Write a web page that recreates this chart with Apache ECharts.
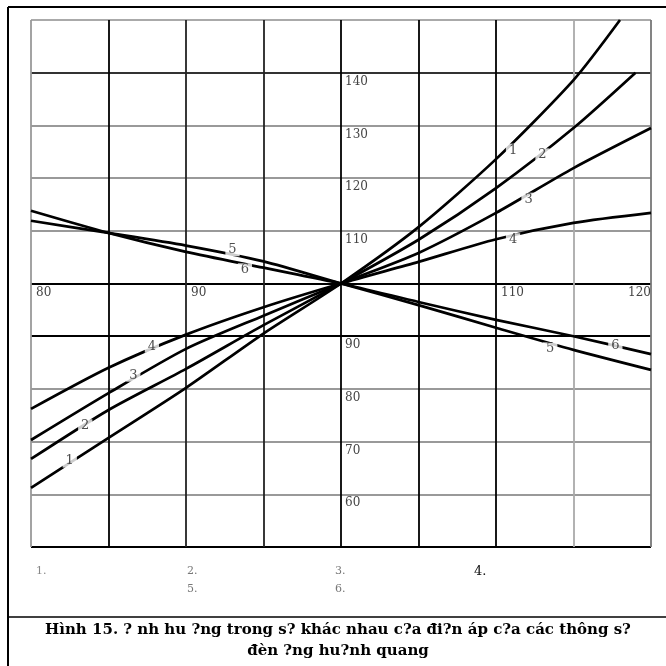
<!DOCTYPE html>
<html>
<head>
<meta charset="utf-8">
<script src="https://cdn.jsdelivr.net/npm/echarts@6/dist/echarts.min.js"></script>
<style>
html,body{margin:0;padding:0;background:#fff;}
#chart{width:666px;height:666px;}
</style>
</head>
<body>
<div id="chart"></div>
<script>
// Voltage (% of nominal) on x, parameter (% of nominal) on y
const curve1 = [[80,61.2],[85,70.7],[90,80.2],[95,90.5],[100,100],[105,110.7],[110,123.6],[115,138.6],[118,150]];
const curve2 = [[80,66.7],[85,76.0],[90,83.8],[95,92.1],[100,100],[105,108.3],[110,118.1],[115,129.5],[119,140]];
const curve3 = [[80,70.3],[85,79.2],[90,87.6],[95,93.9],[100,100],[105,105.8],[110,113.4],[115,121.9],[120,129.5]];
const curve4 = [[80,76.2],[85,84.0],[90,90.3],[95,95.5],[100,100],[105,104.1],[110,108.4],[115,111.5],[120,113.4]];
const curve5 = [[80,111.9],[85,109.6],[90,107.2],[95,104.2],[100,100],[105,95.9],[110,91.6],[115,87.4],[120,83.6]];
const curve6 = [[80,113.8],[85,109.6],[90,106.0],[95,103.0],[100,100],[105,96.5],[110,93.1],[115,90.0],[120,86.6]];
const curveNames = ['1','2','3','4','5','6'];
// curve number tags as drawn on the curves: [x, y, text]
const curveTags = [
  [82.5,66.3,'1'],[111.1,125.3,'1'],
  [83.5,73.0,'2'],[113.0,124.4,'2'],
  [86.6,82.6,'3'],[112.1,116.0,'3'],
  [87.8,88.1,'4'],[111.1,108.3,'4'],
  [93.0,106.4,'5'],[113.5,87.6,'5'],
  [93.8,102.6,'6'],[117.7,88.3,'6']
];
const xLabels = [80,90,110,120];
const yLabels = [60,70,80,90,110,120,130,140];
const legendRow1 = ['1.','2.','3.','4.'];
const legendRow2 = ['5.','6.'];
const captionLines = ['Hình 15. ? nh hu ?ng trong s? khác nhau c?a đi?n áp c?a các thông s?','đèn ?ng hu?nh quang'];

const chart = echarts.init(document.getElementById('chart'));
const lineSeries = [curve1,curve2,curve3,curve4,curve5,curve6].map((d,i)=>({
  type:'line', name:curveNames[i], data:d, smooth:0.25, symbol:'none',
  lineStyle:{color:'#000', width:2.7}, z:3, clip:true
}));
const serif = "'DejaVu Serif','Liberation Serif',serif";
chart.setOption({
  backgroundColor:'#fff',
  animation:false,
  grid:{left:31, right:15, top:20, bottom:119, show:false},
  xAxis:{
    type:'value', min:80, max:120, interval:5, position:'bottom', offset:-263,
    axisLine:{show:false}, axisTick:{show:false},
    axisLabel:{
      margin:3, align:'left', alignMaxLabel:'right', padding:[0,0,0,5],
      color:'#444', fontFamily:serif, fontSize:12,
      formatter:v=> xLabels.includes(v) ? String(v) : ''
    },
    splitLine:{show:true, lineStyle:{width:1.8, color:['#999','#000','#222','#222','#000','#000','#000','#aaa','#777']}}
  },
  yAxis:{
    type:'value', min:50, max:150, interval:10, position:'left', offset:-310,
    axisLine:{show:false}, axisTick:{show:false},
    axisLabel:{
      inside:true, margin:4, verticalAlign:'top', padding:[3,0,0,0],
      color:'#444', fontFamily:serif, fontSize:12,
      formatter:v=> yLabels.includes(v) ? String(v) : ''
    },
    splitLine:{show:true, lineStyle:{width:1.8, color:['#000','#999','#999','#999','#000','#000','#999','#999','#999','#333','#aaa']}}
  },
  series: lineSeries.concat([{
    type:'scatter', data:curveTags, symbol:'circle', symbolSize:1, itemStyle:{color:'transparent'}, z:5,
    label:{show:true, position:'inside', formatter:p=>p.value[2],
      color:'#222', fontFamily:serif, fontSize:13, backgroundColor:'#fff', padding:[0,3]}
  }]),
  graphic:[
    {type:'line', shape:{x1:8,y1:7,x2:666,y2:7}, style:{stroke:'#000', lineWidth:2}},
    {type:'line', shape:{x1:8,y1:7,x2:8,y2:666}, style:{stroke:'#000', lineWidth:2}},
    {type:'line', shape:{x1:8,y1:617,x2:666,y2:617}, style:{stroke:'#000', lineWidth:1.5}},
    {type:'text', left:36, top:566, style:{text:legendRow1[0], font:"11px "+serif, fill:'#888'}},
    {type:'text', left:187, top:566, style:{text:legendRow1[1], font:"11px "+serif, fill:'#777'}},
    {type:'text', left:335, top:566, style:{text:legendRow1[2], font:"11px "+serif, fill:'#777'}},
    {type:'text', left:474, top:565, style:{text:legendRow1[3], font:"13px "+serif, fill:'#111'}},
    {type:'text', left:187, top:584, style:{text:legendRow2[0], font:"11px "+serif, fill:'#777'}},
    {type:'text', left:335, top:584, style:{text:legendRow2[1], font:"11px "+serif, fill:'#777'}},
    {type:'text', x:338, y:630, style:{text:captionLines[0], font:"bold 15px "+serif, fill:'#000', textAlign:'center', textVerticalAlign:'middle'}},
    {type:'text', x:338, y:651, style:{text:captionLines[1], font:"bold 15px "+serif, fill:'#000', textAlign:'center', textVerticalAlign:'middle'}}
  ]
});
</script>
</body>
</html>
